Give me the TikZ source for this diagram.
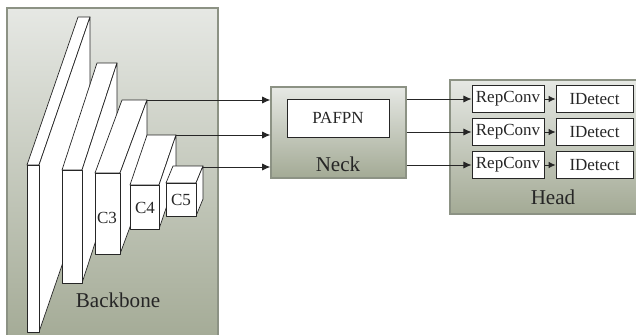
\documentclass[tikz,border=0pt]{standalone}
\usepackage{fontspec}
\setmainfont{Liberation Serif}
\newfontfamily\labelfont{Liberation Serif}
\usetikzlibrary{arrows.meta,positioning}

\definecolor{panelTop}{HTML}{E6E8E4}
\definecolor{panelBot}{HTML}{A3AA95}
\definecolor{panelLine}{HTML}{8C9284}
\definecolor{inkGray}{HTML}{262626}

\tikzset{
  panel/.style={draw=panelLine, line width=1pt, top color=panelTop, bottom color=panelBot, inner sep=0pt},
  whitebox/.style={draw=inkGray, fill=white, line width=0.6pt, inner sep=0pt},
  slabface/.style={draw=inkGray, fill=white, line width=0.6pt, line join=round},
  smalltxt/.style={font=\labelfont\fontsize{14.5}{16}\selectfont, text=inkGray},
  bigtxt/.style={font=\labelfont\fontsize{18}{20}\selectfont, text=inkGray},
  link/.style={draw=inkGray, line width=0.7pt, -{Latex[length=7pt,width=6pt]}},
  shortlink/.style={draw=inkGray, line width=0.7pt, -{Latex[length=6pt,width=5.5pt]}}
}

% front face top-left (x,y), width, height, depth right, depth up
\newcommand{\slab}[6]{%
  \draw[slabface] (#1,#2) -- ++(#5,-#6) -- ++(#3,0) -- ++(-#5,#6) -- cycle;
  \draw[slabface] (#1+#3,#2) -- ++(#5,-#6) -- ++(0,#4) -- ++(-#5,#6) -- cycle;
  \draw[slabface] (#1,#2) rectangle ++(#3,#4);}

\begin{document}
\begin{tikzpicture}[x=0.03cm, y=-0.03cm]
  \clip (0,0) rectangle (636,335);
  \fill[white] (0,0) rectangle (636,335);

  % backbone
  \draw[panel] (7,8) rectangle (218,345);
  \slab{27}{165}{12}{167}{51}{148}
  \slab{62}{170}{20}{113}{35}{107}
  \slab{95}{173}{25}{81}{27}{73}
  \slab{130}{185}{29}{44}{17}{50}
  \slab{166}{183}{30}{33}{7}{17}
  \node[smalltxt] (c3) at (107,218) {C3};
  \node[smalltxt] (c4) at (145,208) {C4};
  \node[smalltxt] (c5) at (181,200) {C5};
  \node[bigtxt] (backbone) at (118,300) {Backbone};
  \coordinate (c3out) at (147,100);
  \coordinate (c4out) at (176,135);
  \coordinate (c5out) at (203,167);

  % neck
  \node[panel, minimum width=4.05cm, minimum height=2.73cm] (neck) at (338.5,132.5) {};
  \node[whitebox, smalltxt, minimum width=3.06cm, minimum height=1.14cm] (pafpn) at (338,118) {PAFPN};
  \node[bigtxt] (necklbl) at (338,164) {Neck};
  \draw[link] (c3out) -- (c3out -| neck.west);
  \draw[link] (c4out) -- (c4out -| neck.west);
  \draw[link] (c5out) -- (c5out -| neck.west);

  % head
  \node[panel, minimum width=5.64cm, minimum height=4.02cm] (head) at (544,147) {};
  \node[bigtxt] (headlbl) at (553,197) {Head};
  \foreach \i/\y in {1/99,2/132,3/165}{
    \node[whitebox, smalltxt, minimum width=2.16cm, minimum height=0.81cm] (rep\i) at (508,\y) {RepConv};
    \node[whitebox, smalltxt, minimum width=2.31cm, minimum height=0.81cm] (det\i) at (594.5,\y) {IDetect};
    \draw[shortlink] (rep\i) -- (det\i);
    \draw[link] (neck.east |- rep\i.west) -- (rep\i.west);
  }
\end{tikzpicture}
\end{document}
